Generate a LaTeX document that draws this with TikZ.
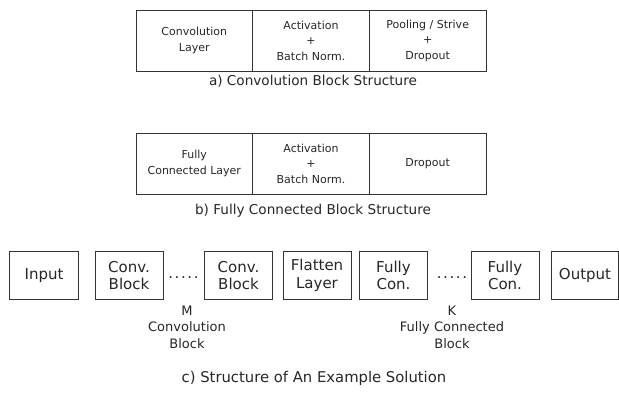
\documentclass[tikz,border=0pt]{standalone}
\usepackage{fontspec}
\setmainfont{DejaVu Sans}
\newcommand{\fivedots}{.\hspace{1.6pt}.\hspace{1.6pt}.\hspace{1.6pt}.\hspace{1.6pt}.}
\begin{document}
\begin{tikzpicture}[x=1pt,y=-1pt,
  cell/.style={draw=black!80,line width=0.9pt,minimum height=61pt,inner sep=0pt,
    align=center,font=\fontsize{11}{15.5}\selectfont,text=black!85},
  blk/.style={draw=black!80,line width=0.9pt,minimum height=48pt,inner sep=0pt,
    align=center,font=\fontsize{15}{17.5}\selectfont,text=black!85},
  caption/.style={font=\fontsize{13.6}{16}\selectfont,text=black!85},
  note/.style={align=center,font=\fontsize{13}{16.5}\selectfont,text=black!85,inner sep=0pt},
  dotrow/.style={font=\fontsize{15}{16}\selectfont,text=black!85,inner sep=0pt}]
\useasboundingbox (0,0) rectangle (619,394);

% a) convolution block
\node[cell,minimum width=116.7pt] (a1) at (194.3,40.5) {Convolution\\Layer};
\node[cell,minimum width=116.7pt] (a2) at (311,40.5) {Activation\\+\\Batch Norm.};
\node[cell,minimum width=116.7pt] (a3) at (427.7,40.5) {Pooling / Strive\\+\\Dropout};
\node[caption] (acap) at (313,81) {a) Convolution Block Structure};

% b) fully connected block
\node[cell,minimum width=116.7pt] (b1) at (194.3,163.5) {Fully\\Connected Layer};
\node[cell,minimum width=116.7pt] (b2) at (311,163.5) {Activation\\+\\Batch Norm.};
\node[cell,minimum width=116.7pt] (b3) at (427.7,163.5) {Dropout};
\node[caption] (bcap) at (313,211) {b) Fully Connected Block Structure};

% c) example network
\node[blk,minimum width=69pt] (in) at (44,275.5) {Input};
\node[blk,minimum width=68pt] (c1) at (129,275.5) {Conv.\\Block};
\node[dotrow] (cd) at (183.5,278) {\fivedots};
\node[blk,minimum width=68pt] (c2) at (238.5,275.5) {Conv.\\Block};
\node[blk,minimum width=68pt] (fl) at (317,275.5) {Flatten\\Layer};
\node[blk,minimum width=68pt] (f1) at (393.5,275.5) {Fully\\Con.};
\node[dotrow] (fd) at (452,278) {\fivedots};
\node[blk,minimum width=68pt] (f2) at (505,275.5) {Fully\\Con.};
\node[blk,minimum width=67pt] (out) at (585,275.5) {Output};
\node[note] (cm) at (187,327) {M\\Convolution\\Block};
\node[note] (fk) at (452,327) {K\\Fully Connected\\Block};
\node[caption,font=\fontsize{14.8}{18}\selectfont] (ccap) at (314,378) {c) Structure of An Example Solution};
\end{tikzpicture}
\end{document}
